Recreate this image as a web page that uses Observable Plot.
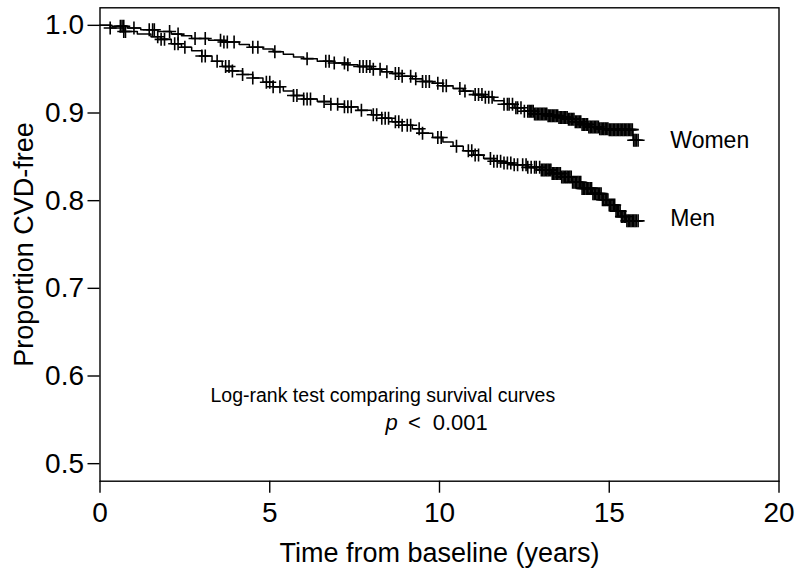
<!DOCTYPE html>
<html>
<head>
<meta charset="utf-8">
<script src="https://cdn.jsdelivr.net/npm/d3@7"></script>
<script src="https://cdn.jsdelivr.net/npm/@observablehq/plot@0.6"></script>
<style>
  html, body { margin: 0; padding: 0; background: white; }
  #chart svg { display: block; }
</style>
</head>
<body>
<div id="chart"></div>
<script>
// ---- Data ----
const xTicks = [0, 5, 10, 15, 20];
const yTicks = [0.5, 0.6, 0.7, 0.8, 0.9, 1.0];

// Kaplan–Meier step knots: time (years) and proportion CVD-free
const womenTime = [0, 0.35, 0.8, 1.2, 1.7, 2.1, 2.4, 2.7, 3.2, 3.6, 4.1, 4.4, 4.8, 5.1, 5.4, 5.7, 6.0, 6.4, 6.9, 7.3, 7.6, 8.0, 8.3, 8.6, 8.9, 9.2, 9.5, 9.8, 10.1, 10.4, 10.7, 11.0, 11.3, 11.6, 11.9, 12.2, 12.5, 12.8, 13.2, 13.5, 13.8, 14.0, 14.2, 14.4, 14.7, 15.0, 15.7, 15.85];
const womenSurv = [1.000, 0.999, 0.997, 0.995, 0.993, 0.990, 0.988, 0.985, 0.983, 0.981, 0.978, 0.975, 0.973, 0.970, 0.967, 0.964, 0.962, 0.959, 0.957, 0.955, 0.953, 0.950, 0.947, 0.945, 0.942, 0.939, 0.936, 0.934, 0.931, 0.928, 0.925, 0.921, 0.918, 0.914, 0.910, 0.906, 0.902, 0.899, 0.897, 0.895, 0.893, 0.890, 0.887, 0.884, 0.882, 0.881, 0.869, 0.869];

const menTime = [0, 0.3, 0.7, 1.1, 1.5, 1.8, 2.1, 2.4, 2.7, 3.0, 3.3, 3.6, 3.9, 4.2, 4.5, 4.8, 5.1, 5.4, 5.7, 6.0, 6.4, 6.8, 7.2, 7.6, 8.0, 8.3, 8.6, 8.9, 9.2, 9.5, 9.8, 10.1, 10.4, 10.7, 11.0, 11.3, 11.6, 11.9, 12.2, 12.6, 13.0, 13.3, 13.6, 13.9, 14.2, 14.5, 14.8, 15.0, 15.2, 15.35, 15.5, 15.85];
const menSurv = [1.000, 0.997, 0.993, 0.990, 0.987, 0.984, 0.979, 0.975, 0.971, 0.965, 0.959, 0.953, 0.948, 0.944, 0.940, 0.935, 0.930, 0.925, 0.920, 0.916, 0.913, 0.910, 0.907, 0.903, 0.898, 0.894, 0.890, 0.886, 0.882, 0.877, 0.872, 0.867, 0.862, 0.857, 0.852, 0.848, 0.845, 0.843, 0.841, 0.838, 0.835, 0.831, 0.827, 0.821, 0.814, 0.808, 0.801, 0.795, 0.788, 0.782, 0.777, 0.777];

// Censoring times (the "+" marks)
const womenCensor = [0.6, 0.65, 0.7, 1.0, 1.45, 1.55, 1.6, 2.05, 2.3, 2.8, 3.1, 3.55, 3.65, 3.75, 3.95, 4.5, 4.65, 5.15, 6.1, 6.65, 6.75, 6.9, 7.2, 7.3, 7.65, 7.75, 7.85, 7.95, 8.05, 8.25, 8.45, 8.7, 8.8, 8.9, 9.15, 9.3, 9.5, 9.6, 9.7, 9.95, 10.1, 10.2, 10.6, 10.75, 11.05, 11.15, 11.25, 11.35, 11.45, 11.55, 11.9, 12.0, 12.05, 12.15, 12.25, 12.3, 12.4, 12.5,
  12.6, 12.64, 12.68, 12.72, 12.76, 12.8, 12.84, 12.88, 12.92, 12.96, 13.0, 13.04, 13.08, 13.12, 13.16, 13.2, 13.24, 13.28, 13.32, 13.36, 13.4, 13.44, 13.48, 13.52, 13.56, 13.6, 13.64, 13.68, 13.72, 13.76, 13.8, 13.84, 13.88, 13.92, 13.96, 14.0, 14.04, 14.08, 14.12, 14.16, 14.2, 14.24, 14.28, 14.32, 14.36, 14.4, 14.44, 14.48, 14.52, 14.56, 14.6, 14.64, 14.68, 14.72, 14.76, 14.8, 14.84, 14.88, 14.92, 14.96, 15.0, 15.04, 15.08, 15.12, 15.16, 15.2, 15.24, 15.28, 15.32, 15.36, 15.4, 15.44, 15.48, 15.52, 15.56, 15.6, 15.64, 15.68,
  15.72, 15.76, 15.8, 15.85];
const menCensor = [0.3, 0.7, 0.75, 1.7, 1.8, 1.9, 2.2, 2.3, 2.5, 3.0, 3.1, 3.45, 3.7, 3.8, 3.9, 4.2, 4.5, 4.9, 5.0, 5.1, 5.3, 5.7, 5.8, 6.0, 6.1, 6.2, 6.6, 6.8, 7.0, 7.2, 7.3, 7.4, 7.7, 8.05, 8.15, 8.3, 8.4, 8.5, 8.7, 8.8, 8.9, 9.05, 9.15, 9.4, 9.5, 9.95, 10.05, 10.5, 10.85, 10.95, 11.05, 11.15, 11.5, 11.6, 11.7, 11.8, 11.9, 12.0, 12.1, 12.2, 12.3, 12.45, 12.55, 12.6, 12.7, 12.8, 12.85, 12.95,
  13.0, 13.04, 13.08, 13.12, 13.16, 13.2, 13.24, 13.28, 13.32, 13.36, 13.4, 13.44, 13.48, 13.52, 13.56, 13.6, 13.64, 13.68, 13.72, 13.76, 13.8, 13.84, 13.88, 13.92, 13.96, 14.0, 14.04, 14.08, 14.12, 14.16, 14.2, 14.24, 14.28, 14.32, 14.36, 14.4, 14.44, 14.48, 14.52, 14.56, 14.6, 14.64, 14.68, 14.72, 14.76, 14.8, 14.84, 14.88, 14.92, 14.96, 15.0, 15.04, 15.08, 15.12, 15.16, 15.2, 15.24, 15.28, 15.32, 15.36, 15.4, 15.44, 15.48, 15.52, 15.56, 15.6, 15.64, 15.68, 15.72, 15.76, 15.8, 15.85];

const groupNames = ["Women", "Men"];
const labelTime = [16.8, 16.8];
const labelSurv = [0.869, 0.779];

const annotLine1 = "Log-rank test comparing survival curves";
const annotParts = ["p", "<", "0.001"];
const annotPartTime = [8.41, 9.07, 9.8];
const annotTime = [8.33];
const annotSurv = [0.577, 0.547];

const xTitle = "Time from baseline (years)";
const yTitle = "Proportion CVD-free";

// ---- Build tables ----
const knots = (ts, ss) => ts.map((t, i) => ({t, s: ss[i]}));
const women = knots(womenTime, womenSurv);
const men = knots(menTime, menSurv);
const bis = d3.bisector(d => d.t).right;
const survAt = (curve, t) => curve[Math.max(0, bis(curve, t) - 1)].s;
const censorRows = (curve, ts) => ts.map(t => ({t, s: survAt(curve, t)}));
const womenC = censorRows(women, womenCensor);
const menC = censorRows(men, menCensor);
const labels = groupNames.map((name, i) => ({name, t: labelTime[i], s: labelSurv[i]}));
const pParts = annotParts.map((text, i) => ({text, t: annotPartTime[i], s: annotSurv[1], italic: i === 0}));

// "+" censoring symbol (R pch = 3)
const plusSymbol = {
  draw(context, size) {
    const h = Math.sqrt(size / Math.PI);
    context.moveTo(-h, 0); context.lineTo(h, 0);
    context.moveTo(0, -h); context.lineTo(0, h);
  }
};

const font = "'Liberation Sans', Arial, Helvetica, sans-serif";

const chart = Plot.plot({
  width: 800,
  height: 581,
  marginLeft: 99.5,
  marginRight: 21.5,
  marginTop: 7.3,
  marginBottom: 100.3,
  style: {fontFamily: font, fontSize: "28px", background: "white", color: "black"},
  x: {domain: [0, 20]},
  y: {domain: [0.48, 1.02]},
  marks: [
    Plot.frame({stroke: "black", strokeWidth: 1.4}),
    Plot.axisX({ticks: xTicks, tickSize: 12, tickPadding: 9, label: null, fontSize: 28, strokeWidth: 1.4, tickFormat: d => String(d)}),
    Plot.axisY({ticks: yTicks, tickSize: 12, tickPadding: 4, label: null, fontSize: 28, strokeWidth: 1.4, tickFormat: d3.format(".1f")}),
    Plot.line(women, {x: "t", y: "s", curve: "step-after", stroke: "black", strokeWidth: 1.5}),
    Plot.line(men, {x: "t", y: "s", curve: "step-after", stroke: "black", strokeWidth: 1.5}),
    Plot.dot(womenC, {x: "t", y: "s", symbol: plusSymbol, r: 6.5, stroke: "black", fill: "none", strokeWidth: 1.6}),
    Plot.dot(menC, {x: "t", y: "s", symbol: plusSymbol, r: 6.5, stroke: "black", fill: "none", strokeWidth: 1.6}),
    Plot.text(labels, {x: "t", y: "s", text: "name", textAnchor: "start", fontSize: 23, fill: "black"}),
    Plot.text([annotLine1], {x: annotTime[0], y: annotSurv[0], text: d => d, textAnchor: "middle", fontSize: 19.5, fill: "black"}),
    Plot.text(pParts.filter(d => d.italic), {x: "t", y: "s", text: "text", textAnchor: "start", fontSize: 22, fontStyle: "italic", fill: "black"}),
    Plot.text(pParts.filter(d => !d.italic), {x: "t", y: "s", text: "text", textAnchor: "start", fontSize: 22, fill: "black"}),
    Plot.text([xTitle], {frameAnchor: "bottom", dy: 72, text: d => d, textAnchor: "middle", lineAnchor: "middle", fontSize: 27, fill: "black"}),
    Plot.text([yTitle], {frameAnchor: "left", dx: -76, rotate: -90, text: d => d, textAnchor: "middle", lineAnchor: "middle", fontSize: 27, fill: "black"})
  ]
});
document.getElementById("chart").appendChild(chart);
</script>
</body>
</html>
